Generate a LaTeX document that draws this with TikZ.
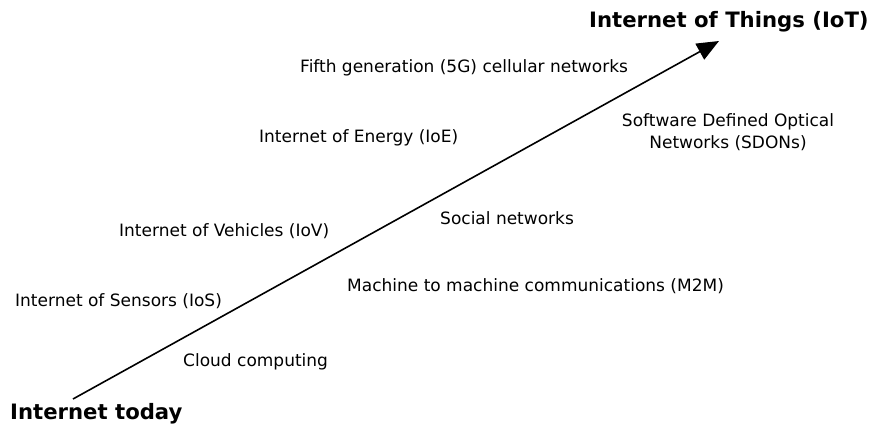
\documentclass[tikz,border=0pt]{standalone}
\usepackage{fontspec}
\setmainfont{DejaVu Sans}
\usetikzlibrary{arrows.meta}
\begin{document}
\begin{tikzpicture}[x=1pt,y=-1pt,
  lbl/.style={anchor=base west,inner sep=0pt,font=\fontsize{17}{20}\selectfont},
  ttl/.style={anchor=base west,inner sep=0pt,font=\fontsize{21.2}{25}\selectfont\bfseries},
  arr/.style={line width=1.6pt,-{Triangle[length=22pt,width=18pt]}}]
\useasboundingbox (0,0) rectangle (870,426);
\coordinate (start) at (73,399);
\coordinate (tip) at (719,41);
\draw[arr] (start) -- (tip);
\node[ttl] (iot) at (589,27) {Internet of Things (IoT)};
\node[ttl] (today) at (10,419) {Internet today};
\node[lbl] (fiveg) at (300,72) {Fifth generation (5G) cellular networks};
\node[anchor=center,inner sep=0pt,align=center,font=\fontsize{17}{22}\selectfont] (sdon) at (728,132) {Software Defined Optical\\Networks (SDONs)};
\node[lbl] (ioe) at (259,142) {Internet of Energy (IoE)};
\node[lbl] (social) at (440,224) {Social networks};
\node[lbl] (iov) at (119,236) {Internet of Vehicles (IoV)};
\node[lbl] (m2m) at (347,291) {Machine to machine communications (M2M)};
\node[lbl] (ios) at (15,306) {Internet of Sensors (IoS)};
\node[lbl] (cloud) at (183,366) {Cloud computing};
\end{tikzpicture}
\end{document}
